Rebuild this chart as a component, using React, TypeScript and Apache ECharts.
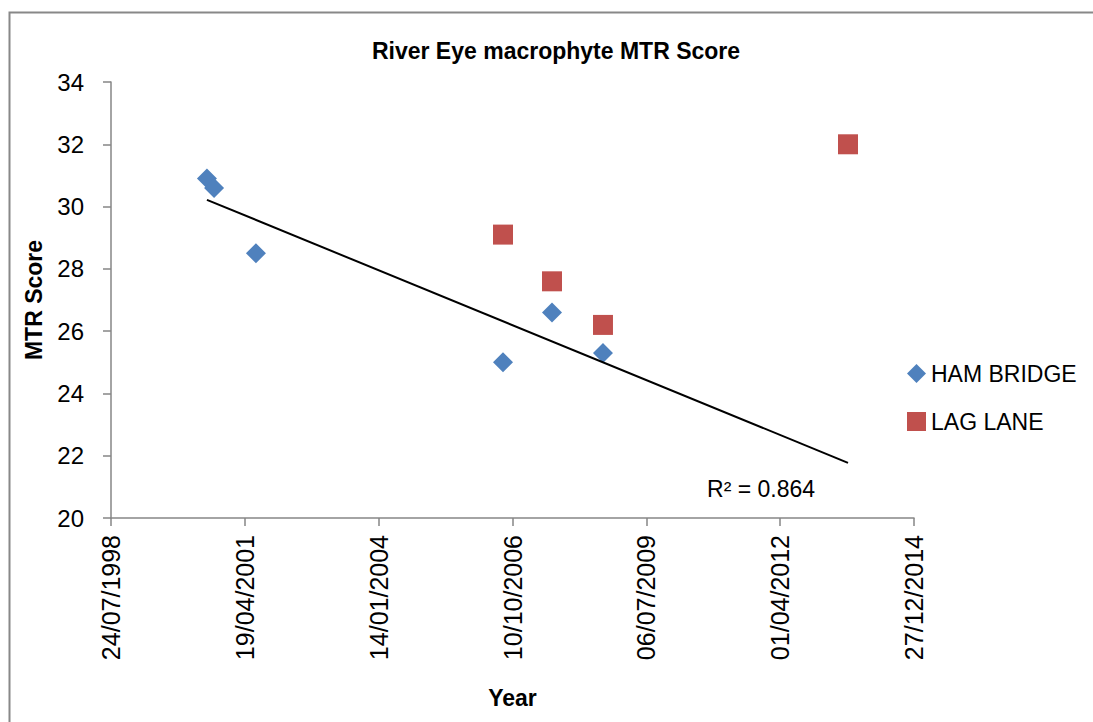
import React, { useEffect, useRef } from "react";
import * as echarts from "echarts";

const TITLE = "River Eye macrophyte MTR Score";
const X_NAME = "Year";
const Y_NAME = "MTR Score";

const HAM_NAME = "HAM BRIDGE";
const HAM_DATES = ["2000-07-10", "2000-09-01", "2001-07-11", "2006-07-31", "2007-08-01", "2008-08-16"];
const HAM_SCORES = [30.9, 30.6, 28.5, 25.0, 26.6, 25.3];

const LAG_NAME = "LAG LANE";
const LAG_DATES = ["2006-07-31", "2007-08-01", "2008-08-16", "2013-08-21"];
const LAG_SCORES = [29.1, 27.6, 26.2, 32.0];

const R2_LABEL = "R² = 0.864";

// x axis: Excel date serials 36000 (24/07/1998) .. 42000 (27/12/2014)
const X_MIN = 36000;
const X_MAX = 42000;
const X_STEP = 1000;
const Y_MIN = 20;
const Y_MAX = 34;
const Y_STEP = 2;

const EPOCH = Date.UTC(1899, 11, 30);
const toSerial = (s: string) => {
  const [y, m, d] = s.split("-").map(Number);
  return Math.round((Date.UTC(y, m - 1, d) - EPOCH) / 86400000);
};
const fmtSerial = (v: number) => {
  const dt = new Date(EPOCH + v * 86400000);
  const dd = String(dt.getUTCDate()).padStart(2, "0");
  const mm = String(dt.getUTCMonth() + 1).padStart(2, "0");
  return `${dd}/${mm}/${dt.getUTCFullYear()}`;
};

const FONT = "'Liberation Sans', Arial, sans-serif";

export default function App() {
  const ref = useRef<HTMLDivElement>(null);
  useEffect(() => {
    if (!ref.current) return;
    const chart = echarts.init(ref.current, undefined, { renderer: "svg" });

    const ham = HAM_DATES.map((d, i) => [toSerial(d), HAM_SCORES[i]]);
    const lag = LAG_DATES.map((d, i) => [toSerial(d), LAG_SCORES[i]]);

    // linear trendline of HAM BRIDGE, forecast forward to last sampling date
    const n = ham.length;
    const mx = ham.reduce((s, p) => s + p[0], 0) / n;
    const my = ham.reduce((s, p) => s + p[1], 0) / n;
    let sxy = 0, sxx = 0;
    ham.forEach((p) => {
      sxy += (p[0] - mx) * (p[1] - my);
      sxx += (p[0] - mx) * (p[0] - mx);
    });
    const slope = sxy / sxx;
    const icpt = my - slope * mx;
    const x0 = Math.min(...ham.map((p) => p[0]));
    const x1 = Math.max(...ham.map((p) => p[0]), ...lag.map((p) => p[0]));
    const trend = [
      [x0, icpt + slope * x0],
      [x1, icpt + slope * x1],
    ];

    const axisColor = "#868686";
    const frame = {
      type: "rect",
      left: 7,
      top: 10,
      shape: { width: 1200, height: 800 },
      style: { fill: "none", stroke: "#888888", lineWidth: 2 },
      silent: true,
      z: -10,
    };
    chart.setOption({
      animation: false,
      backgroundColor: "#ffffff",
      textStyle: { fontFamily: FONT },
      title: {
        text: TITLE,
        left: 551,
        top: 34,
        textAlign: "center",
        textStyle: { fontFamily: FONT, fontSize: 23, fontWeight: "bold", color: "#000" },
      },
      legend: {
        orient: "vertical",
        left: 902,
        top: 357,
        itemWidth: 19,
        itemHeight: 19,
        itemGap: 25,
        textStyle: { fontFamily: FONT, fontSize: 23, color: "#000" },
        data: [
          { name: HAM_NAME, icon: "diamond" },
          { name: LAG_NAME, icon: "rect" },
        ],
      },
      grid: { left: 111, right: 179, top: 82, bottom: 204 },
      xAxis: {
        type: "value",
        min: X_MIN,
        max: X_MAX,
        interval: X_STEP,
        name: X_NAME,
        nameLocation: "middle",
        nameGap: 168,
        nameTextStyle: { fontFamily: FONT, fontSize: 23, fontWeight: "bold", color: "#000" },
        axisLine: { show: true, lineStyle: { color: axisColor, width: 1.5 } },
        axisTick: { show: true, length: 8, lineStyle: { color: axisColor, width: 1.5 } },
        axisLabel: {
          rotate: 90,
          margin: 17,
          fontFamily: FONT,
          fontSize: 25,
          color: "#000",
          formatter: (v: number) => fmtSerial(v),
        },
        splitLine: { show: false },
      },
      yAxis: {
        type: "value",
        min: Y_MIN,
        max: Y_MAX,
        interval: Y_STEP,
        name: Y_NAME,
        nameLocation: "middle",
        nameGap: 66,
        nameRotate: 90,
        nameTextStyle: { fontFamily: FONT, fontSize: 23, fontWeight: "bold", color: "#000" },
        axisLine: { show: true, lineStyle: { color: axisColor, width: 1.5 } },
        axisTick: { show: true, length: 8, lineStyle: { color: axisColor, width: 1.5 } },
        axisLabel: { margin: 27, fontFamily: FONT, fontSize: 24, color: "#000" },
        splitLine: { show: false },
      },
      series: [
        {
          name: HAM_NAME,
          type: "scatter",
          symbol: "diamond",
          symbolSize: 20,
          itemStyle: { color: "#4F81BD", opacity: 1 },
          data: ham,
          z: 2,
        },
        {
          name: LAG_NAME,
          type: "scatter",
          symbol: "rect",
          symbolSize: 20,
          itemStyle: { color: "#C0504D", opacity: 1 },
          data: lag,
          z: 2,
        },
        {
          name: "trend",
          type: "line",
          data: trend,
          showSymbol: false,
          silent: true,
          lineStyle: { color: "#000", width: 2 },
          z: 3,
        },
      ],
      graphic: [frame],
    });

    const end = chart.convertToPixel({ gridIndex: 0 }, trend[1]) as number[];
    chart.setOption({
      graphic: [
        frame,
        {
          type: "text",
          x: end[0] - 141,
          y: end[1] + 26,
          style: {
            text: R2_LABEL,
            fontFamily: FONT,
            fontSize: 23,
            fill: "#000",
            verticalAlign: "middle",
            align: "left",
          },
        },
      ],
    });

    return () => chart.dispose();
  }, []);
  return (
    <div
      ref={ref}
      style={{ position: "absolute", left: 0, top: 0, width: 1093, height: 722 }}
    />
  );
}
